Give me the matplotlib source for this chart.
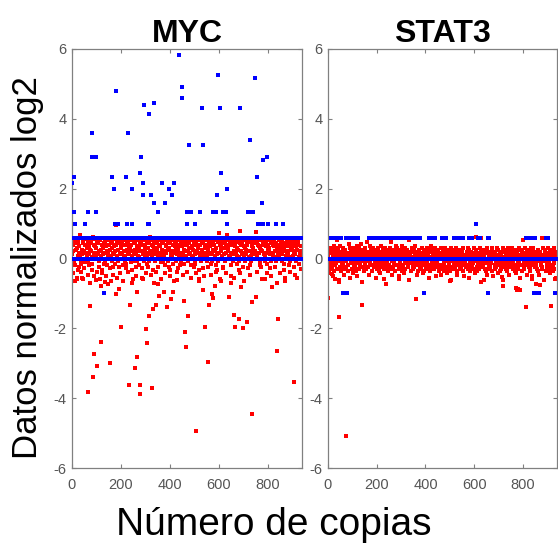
import numpy as np
import matplotlib
matplotlib.use("Agg")
import matplotlib.pyplot as plt

plt.rcParams['font.family'] = ["Liberation Sans", "DejaVu Sans"]
plt.rcParams['axes.unicode_minus'] = False

# ---------------- data ----------------
titles = ["MYC", "STAT3"]
x_label = "Número de copias"
y_label = "Datos normalizados log2"
x_ticks = [0, 200, 400, 600, 800]
y_ticks = [-6, -4, -2, 0, 2, 4, 6]
n_samples = 935

# dense band of red values, one character per sample, level = lo + step * code
LEVEL_CHARS = "0123456789abcdefghijklmnopqrstuvwxyz"
myc_band_lo, myc_band_step = -0.78, 0.045
myc_band = (
    "kq8mtgd3rnhu5oajslpcwieg9nkr4tmhbfqlfujo7sgpdkn2rmtiaevhlq6u"
    "ploi9shkrcgmu4tnjqa8okhrelsgp6mudik1qtnhbjrgsolc7pkumehq5rjt"
    "gnscuk8pohlrtd3mjqgiebunsk9rlhpotfqmjag4ukrhsnc6lpgtjmodiqsu"
    "hrb5mkugtqpnj8lsiecorhgvkmt7qljpa2nsuhgk9romticlqjphf4usnkgr"
    "tjmd8qplhugsnoca6rkjtimqhe3ulpsgnrk9bmojtqhdlgsup7ikrneqmthj"
    "sq9gmorkulhd5pjtnicqsegk8rmhuopla3jtqkgnsmrbiu6hplqogtjkcnrs"
    "lhpe7ukgsrntqmjido9akhgsulr4qnpmtjcbhrkogs8qlwupmntihjr6dkql"
    "ugqmr5pkhlsjoetnagi8rumqkhsctpj3oglnkrqubhmsid7tgjplqnroskhu"
    "mkr9sjquhlpgdontc4mqurkhigjslp8eqtnhmobkrg6sulqjhtpcmrigo2nk"
    "qtjhl8pnsgkumreoa5qrhjtmlkpsdi9ghnuqotrjcmls7kpgqhnutriejmkp"
)
stat3_band_lo, stat3_band_step = -0.90, 0.055
stat3_band = (
    "hd9kgmbjeflc7ihnagkdmeqbjhgl5fcinakgdhmjeb8lgkfichrjdaogmh6k"
    "ejgb9mhdkicflgan7jhekbmgdifoch4lkjgaemdhbkfpicjg8nheldkgaimj"
    "cgkhe6ljbdmifgakh9ecnjgldibhkmf3gjecakhldigmbjp8fkhcgeljdain"
    "gmidkb7hejflcgankdhi9bmejgkfldchq5jgieakhmdbflcgjneikh8dgalj"
    "kcfhbimeg9jdlakhgcfeimbj6kgdhalnfecijgkbmdh7fjgeclkaidhgbm8j"
    "dhkgeajcmifbl9hgkdjecam5ihfkgbldjcgehmai8kfdgjbhlcekigamdf7h"
    "iegckjhbdm6lfagjkhcdeibmgj9hklfcadgiejbhmkr4cfgdjhilbkegam8j"
    "gbkdhifcejmlag7hkgbdjcefim9ldhgkajebichgm5fkdlgjbhcaeimkg8dh"
    "jcfhkmebdgial9gjhckebdfmgi6lhakgjdqebhmifgk8djlhgcbaeikm7gdj"
    "mhegkc3jdbfilah8gkjdehcrbmfi5gklhjadcemgbifh9kdgjhlcaebmkig6"
)

# red values outside the dense band (sample index, log2 value)
myc_red_x = [178, 192, 72, 117, 134, 201, 119, 91, 104, 85, 65, 155, 235, 266,
             245, 256, 266, 232, 276, 276, 327, 302, 307, 316, 331, 343, 357,
             376, 387, 403, 412, 459, 463, 467, 474, 508, 535, 543, 554, 558,
             571, 575, 584, 640, 663, 665, 681, 690, 700, 716, 734, 750, 734,
             816, 842, 836, 906, 685, 750, 600, 180,
             20, 40, 100, 160, 290, 350, 430, 520, 610, 650, 790, 870, 920, 935]
myc_red_y = [-1.01, -0.87, -1.37, -0.78, -0.68, -1.97, -2.38, -2.73, -3.08, -3.40,
             -3.83, -2.99, -1.32, -0.97, -0.70, -3.13, -2.83, -3.61, -3.61, -3.87,
             -3.70, -2.03, -2.42, -1.65, -1.46, -1.33, -1.08, -0.95, -1.40, -1.16,
             -0.97, -1.22, -2.11, -2.53, -1.65, -4.93, -0.91, -1.97, -2.97, -1.33,
             -1.01, -1.12, -0.78, -1.09, -1.61, -1.97, -1.72, -0.83, -2.00, -1.82,
             -1.26, -1.09, -4.46, -0.83, -1.72, -2.64, -3.53, 0.80, 0.77, 0.72, 0.97,
             -0.60, -0.55, -0.62, -0.65, -0.60, -0.72, -0.62, -0.58, -0.65, -0.70,
             -0.60, -0.65, -0.55, -0.30]
stat3_red_x = [2, 46, 138, 363, 812, 915, 74, 29, 46, 15, 720, 778, 790, 608,
               930, 870, 290, 500, 230, 640, 716, 717, 770, 777, 839]
stat3_red_y = [-1.14, -1.68, -1.33, -1.16, -1.40, -1.37, -5.07, -0.59, -0.68, -0.44,
               -0.78, -0.87, -0.90, 0.63, -0.60, -0.75, -0.60, -0.65, -0.58, -0.62,
               -0.53, -0.61, -0.85, -0.90, -0.60]

# blue copy-number calls (log2 ratio levels)
neutral_level = 0.0
gain_level = 0.585
myc_gain_segments = [(0, 78), (89, 209), (222, 805), (816, 940)]
stat3_gain_segments = [(14, 26), (36, 52), (72, 94), (100, 124), (170, 234),
                       (252, 378), (416, 440), (466, 486), (516, 554), (578, 592),
                       (616, 622), (655, 661), (812, 848), (896, 904)]
myc_blue_x = [437, 598, 749, 448, 180, 448, 337, 295, 315, 530, 605, 685, 80, 230,
              478, 534, 729, 83, 90, 97, 280, 795, 779, 276, 609, 3, 10, 164, 220,
              755, 0, 291, 367, 418, 171, 245, 396, 633, 291, 321, 407, 594, 337,
              382, 775, 5, 10, 65, 100, 351, 472, 485, 524, 577, 587, 617, 630, 719,
              730, 740, 14, 55, 175, 187, 226, 246, 310, 315, 472, 504, 633, 760,
              770, 779, 801, 832, 862, 130]
myc_blue_y = [5.83, 5.25, 5.17, 4.907, 4.807, 4.585, 4.46, 4.39, 4.13, 4.32, 4.32,
              4.32, 3.585, 3.585, 3.25, 3.25, 3.39, 2.907, 2.907, 2.907, 2.907, 2.907,
              2.807, 2.46, 2.46, 2.32, 2.32, 2.32, 2.32, 2.32, 2.17, 2.17, 2.17, 2.17,
              2.0, 2.0, 2.0, 2.0, 1.807, 1.807, 1.807, 1.807, 1.585, 1.585, 1.585,
              1.32, 1.32, 1.32, 1.32, 1.32, 1.32, 1.32, 1.32, 1.32, 1.32, 1.32, 1.32,
              1.32, 1.32, 1.32, 1.0, 1.0, 1.0, 1.0, 1.0, 1.0, 1.0, 1.0, 1.0, 1.0, 1.0,
              1.0, 1.0, 1.0, 1.0, 1.0, 1.0, -1.0]
stat3_blue_x = [608, 62, 66, 70, 74, 78, 393, 656, 846, 851, 856, 862, 868, 933]
stat3_blue_y = [1.0, -1.0, -1.0, -1.0, -1.0, -1.0, -1.0, -1.0, -1.0, -1.0, -1.0,
                -1.0, -1.0, -1.0]

# ---------------- drawing ----------------
RED = "#ff0000"
BLUE = "#0000ff"
SPINE = "#808080"
TICKC = "#555555"
MS = 2.2


def decode(band, lo, step):
    return np.array([lo + step * LEVEL_CHARS.index(c) for c in band])


def dots(ax, x, y, color, z):
    ax.plot(x, y, 's', color=color, ms=MS, mew=0, zorder=z)


panels = [
    (titles[0], decode(myc_band, myc_band_lo, myc_band_step), myc_red_x, myc_red_y,
     myc_gain_segments, myc_blue_x, myc_blue_y),
    (titles[1], decode(stat3_band, stat3_band_lo, stat3_band_step), stat3_red_x,
     stat3_red_y, stat3_gain_segments, stat3_blue_x, stat3_blue_y),
]

fig = plt.figure(figsize=(5.58, 5.50), dpi=100)
rects = [[72 / 558, 82 / 550, 230 / 558, 419 / 550],
         [328 / 558, 82 / 550, 229 / 558, 419 / 550]]

for rect, (title, band, rx, ry, segs, bx, by) in zip(rects, panels):
    ax = fig.add_axes(rect)
    band_x = np.linspace(1, n_samples, len(band))
    dots(ax, band_x, band, RED, 2)
    dots(ax, rx, ry, RED, 2)
    base_x = np.arange(0, n_samples + 1)
    dots(ax, base_x, np.full(base_x.size, neutral_level), BLUE, 3)
    gx = np.concatenate([np.arange(a, b + 1) for a, b in segs])
    dots(ax, gx, np.full(gx.size, gain_level), BLUE, 3)
    dots(ax, bx, by, BLUE, 3)

    ax.set_xlim(0, 940)
    ax.set_ylim(-6, 6)
    ax.set_xticks(x_ticks)
    ax.set_yticks(y_ticks)
    ax.tick_params(direction='in', length=3, width=0.8, colors=SPINE,
                   labelcolor=TICKC, labelsize=10.5, top=True, right=True)
    ax.tick_params(axis='x', pad=7)
    ax.tick_params(axis='y', pad=4)
    for s in ax.spines.values():
        s.set_color(SPINE)
        s.set_linewidth(0.9)
    ax.set_title(title, fontsize=23, fontweight='bold', pad=5)

fig.text(274 / 558, 1 - 535 / 550, x_label, ha='center', va='baseline',
         fontsize=28)
fig.text(28 / 558, 1 - 268 / 550, y_label, ha='center', va='center',
         rotation=90, fontsize=25)

fig.savefig("out.png", dpi=100)
